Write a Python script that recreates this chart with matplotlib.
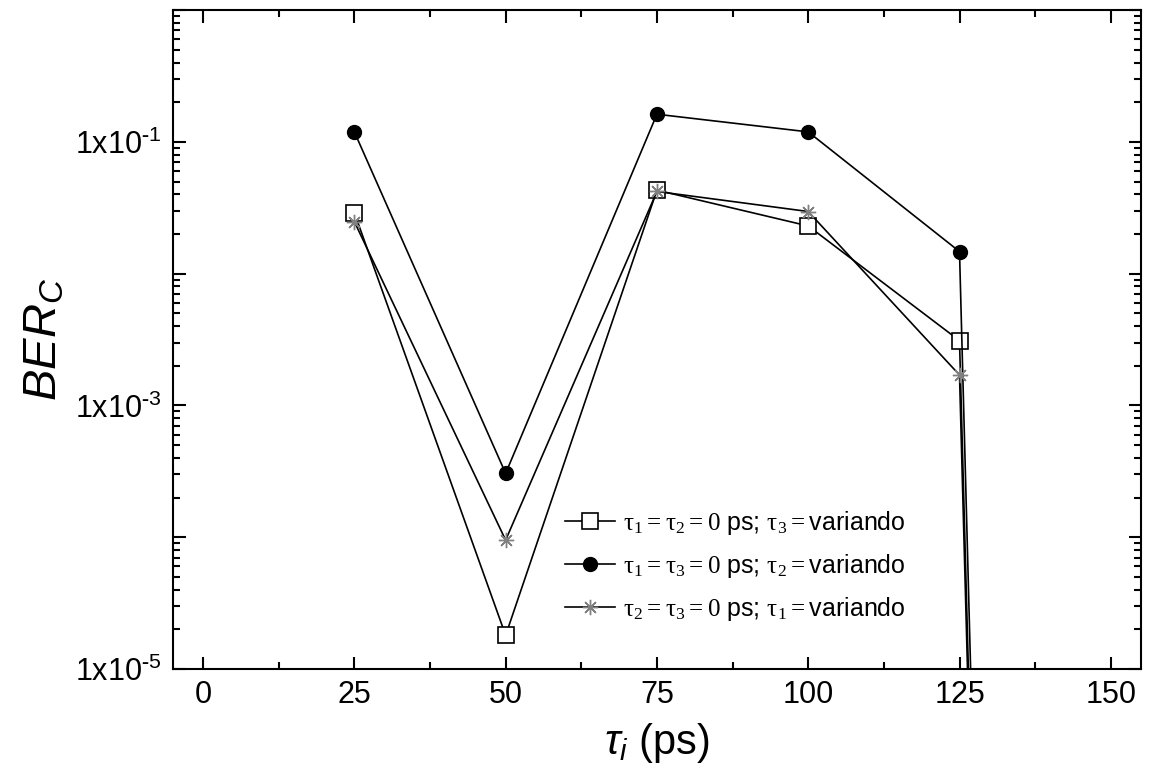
import matplotlib
matplotlib.use("Agg")
import matplotlib.pyplot as plt
from matplotlib.ticker import LogLocator, NullFormatter, MultipleLocator
import numpy as np

plt.rcParams['font.family'] = ['Liberation Sans', 'DejaVu Sans']
plt.rcParams['mathtext.fontset'] = 'custom'
plt.rcParams['mathtext.rm'] = 'Liberation Serif'
plt.rcParams['mathtext.it'] = 'Liberation Sans:italic'
plt.rcParams['mathtext.sf'] = 'Liberation Sans'
plt.rcParams['axes.unicode_minus'] = False

# tau_i in ps; the last point is the (vanishing) BER beyond 125 ps
tau = [25, 50, 75, 100, 125, 150]
ber_tau3 = [0.029, 1.8e-5, 0.043, 0.023, 0.0031, 1e-45]
ber_tau2 = [0.119, 3.05e-4, 0.162, 0.119, 0.0147, 1e-45]
ber_tau1 = [0.0248, 9.5e-5, 0.042, 0.0296, 0.0017, 1e-45]

labels = [r'$\mathrm{\tau_1 = \tau_2 = 0}$ ps; $\mathrm{\tau_3 =}$variando',
          r'$\mathrm{\tau_1 = \tau_3 = 0}$ ps; $\mathrm{\tau_2 =}$variando',
          r'$\mathrm{\tau_2 = \tau_3 = 0}$ ps; $\mathrm{\tau_1 =}$variando']

fig = plt.figure(figsize=(11.52, 7.74), dpi=100)
ax = fig.add_axes([0.150, 0.1357, 0.8405, 0.8513])

lw = 1.2
ax.plot(tau, ber_tau3, '-', color='black', lw=lw, marker='s', ms=11,
        mfc='white', mec='black', mew=1.2, label=labels[0], zorder=3)
ax.plot(tau, ber_tau2, '-', color='black', lw=lw, marker='o', ms=10,
        mfc='black', mec='black', label=labels[1], zorder=3)
ax.plot(tau, ber_tau1, '-', color='black', lw=lw, marker=(8, 2, 0), ms=11,
        mec='#808080', mew=1.0, label=labels[2], zorder=3)

ax.set_yscale('log')
ax.set_ylim(1e-5, 1)
ax.set_xlim(-5, 155)

ax.xaxis.set_major_locator(MultipleLocator(25))
ax.xaxis.set_minor_locator(MultipleLocator(12.5))
ax.yaxis.set_major_locator(LogLocator(base=10, numticks=20))
ax.yaxis.set_minor_locator(LogLocator(base=10, subs=np.arange(2, 10), numticks=20))
ax.yaxis.set_minor_formatter(NullFormatter())


def ylab(v, pos):
    # only every other decade is labelled
    e = int(round(np.log10(v)))
    if e % 2 == 0:
        return ''
    return r'1x10$^{\mathsf{\text{-}%d}}$' % abs(e)

ax.yaxis.set_major_formatter(plt.FuncFormatter(ylab))

for s in ax.spines.values():
    s.set_linewidth(1.5)
ax.tick_params(which='both', direction='in', top=True, right=True, width=1.5)
ax.tick_params(which='major', length=9, labelsize=22, pad=8)
ax.tick_params(which='minor', length=5)

ax.set_xlabel(r'$\tau_i$ (ps)', fontsize=30, labelpad=8)
ax.set_ylabel(r'$BER_C$', fontsize=34, labelpad=6)

ax.legend(loc='lower left', bbox_to_anchor=(0.395, 0.055), frameon=False,
          fontsize=18, handlelength=2.0, handletextpad=0.3, labelspacing=0.6,
          borderaxespad=0)

fig.savefig('out.png', dpi=100)
